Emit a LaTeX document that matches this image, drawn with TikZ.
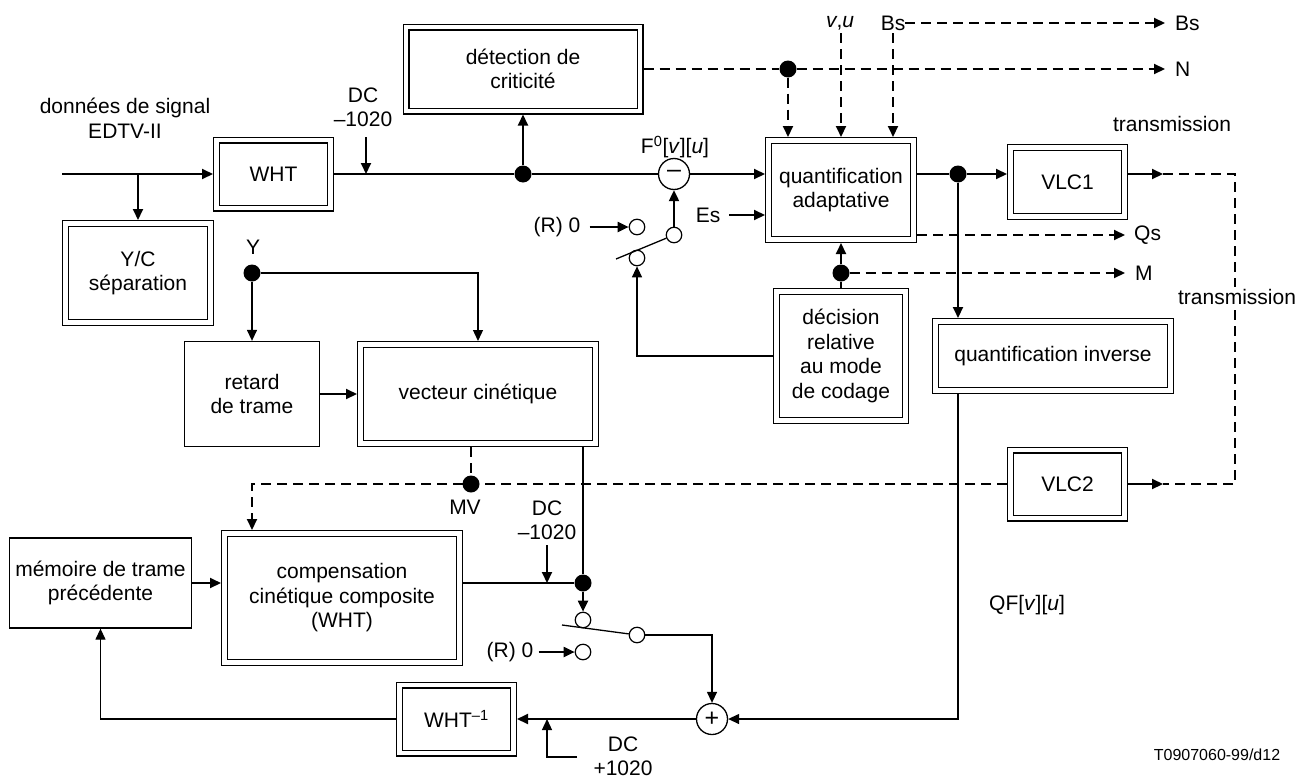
\documentclass[tikz,border=0pt]{standalone}
\usepackage{fontspec}
\setmainfont{Liberation Sans}
\usetikzlibrary{arrows.meta,calc}
\begin{document}
\begin{tikzpicture}[x=1pt,y=-1pt,
  every node/.style={font=\fontsize{21}{24.5}\selectfont, inner sep=0pt},
  dbox/.style={draw, double, double distance=4.6pt, line width=1.2pt, outer sep=3.5pt, align=center},
  sbox/.style={draw, line width=1.3pt, outer sep=0.65pt, align=center},
  lbl/.style={align=center},
  sig/.style={line width=2pt},
  thn/.style={line width=1.3pt},
  dsh/.style={line width=2pt, dash pattern=on 10pt off 6pt},
  tip/.style={-{Triangle[length=11pt,width=10pt]}},
  dot/.style={circle, fill, minimum size=17pt},
  sw/.style={circle, draw, line width=1.2pt, minimum size=15.5pt, fill=white},
  sumc/.style={circle, draw, line width=1.3pt, minimum size=31pt, font=\fontsize{25}{25}\selectfont},
]
\useasboundingbox (0,0) rectangle (1308,779);

% boxes
\node[dbox, minimum width=114pt, minimum height=68pt] (wht) at (273.5,174) {WHT};
\node[dbox, minimum width=145pt, minimum height=99pt] (yc) at (138,273) {Y/C\\séparation};
\node[dbox, minimum width=234pt, minimum height=84pt] (det) at (523,69) {détection de\\criticité};
\node[dbox, minimum width=145pt, minimum height=99pt] (quant) at (841,190) {quantification\\adaptative};
\node[dbox, minimum width=114pt, minimum height=69pt] (vlc1) at (1067.5,182) {VLC1};
\node[dbox, minimum width=235pt, minimum height=99pt] (vec) at (478,394) {vecteur cinétique};
\node[dbox, minimum width=129pt, minimum height=129pt] (dec) at (841,356) {décision\\relative\\au mode\\de codage};
\node[dbox, minimum width=235pt, minimum height=69pt] (qinv) at (1053,356) {quantification inverse};
\node[dbox, minimum width=114pt, minimum height=68pt] (vlc2) at (1067.5,484) {VLC2};
\node[dbox, minimum width=235pt, minimum height=129pt] (comp) at (342,598) {compensation\\cinétique composite\\(WHT)};
\node[dbox, minimum width=114pt, minimum height=68pt] (whti) at (456.5,719) {WHT\textsuperscript{–1}};
\node[sbox, minimum width=135pt, minimum height=105pt] (ret) at (252,394) {retard\\de trame};
\node[sbox, minimum width=182pt, minimum height=90pt] (mem) at (100.5,583) {mémoire de trame\\précédente};

% circles
\node[sumc] (minus) at (674,174) {–};
\node[sumc] (plus) at (712,719) {+};

% dots
\node[dot] (d1) at (523,174) {};
\node[dot] (d2) at (788,69) {};
\node[dot] (d3) at (958,174) {};
\node[dot] (d4) at (841,273) {};
\node[dot] (dY) at (252,273) {};
\node[dot] (dMV) at (471,484) {};
\node[dot] (dC) at (583,583) {};

% labels
\node[lbl] (sig) at (125,118.5) {données de signal\\EDTV-II};
\node[lbl] (dc1) at (363,107.5) {DC\\–1020};
\node[lbl] (f0) at (675,147) {F\textsuperscript{0}[\textit{v}][\textit{u}]};
\node[lbl] (vu) at (840,23) {\textit{v},\textit{u}};
\node[lbl] (bs) at (893,23) {Bs};
\node[lbl, anchor=west] (bs2) at (1175,23) {Bs};
\node[lbl, anchor=west] (nl) at (1175,69) {N};
\node[lbl] (tr1) at (1172,124) {transmission};
\node[lbl] (es) at (708,215) {Es};
\node[lbl] (r1) at (557,227) {(R) 0};
\node[lbl, anchor=west] (qs) at (1134,235) {Qs};
\node[lbl, anchor=west] (ml) at (1135,273) {M};
\node[lbl] (yl) at (253,247) {Y};
\node[lbl] (mv) at (465,507) {MV};
\node[lbl] (dc2) at (547,520.5) {DC\\–1020};
\node[lbl] (r2) at (510,652) {(R) 0};
\node[lbl] (qf) at (1027,605) {QF[\textit{v}][\textit{u}]};
\node[lbl] (dc3) at (623,756.5) {DC\\+1020};
\node[lbl, font=\fontsize{16}{18}\selectfont] (code) at (1217,755) {T0907060-99/d12};

% coordinates
\coordinate (inp) at (62,174);
\coordinate (br) at (138,174);
\coordinate (dc1a) at (366,137);
\coordinate (lv1) at (616,259);
\coordinate (vuA) at (841,33);
\coordinate (bsA) at (893,33);
\coordinate (t1) at (1163,174);
\coordinate (t2) at (1163,484);
\coordinate (trc) at (1235,174);
\coordinate (mvl) at (252,484);
\coordinate (dc2a) at (547,545);
\coordinate (lv2) at (562,625);
\coordinate (dc3a) at (577,757);
\coordinate (dc3b) at (547,757);

% top signal path
\draw[sig,tip] (inp) -- (wht.west);
\draw[sig,tip] (br) -- (yc.north);
\draw[sig] (wht.east) -- (d1);
\draw[sig,tip] (d1) -- (det.south);
\draw[sig] (d1) -- (minus);
\draw[sig,tip] (minus) -- (minus -| quant.west);
\draw[sig,tip] (dc1a) -- (dc1a |- wht.east);
\draw[sig,tip] ([xshift=9pt]es.east) -- (es.east -| quant.west);
\draw[sig] (quant.east |- d3) -- (d3);
\draw[sig,tip] (d3) -- (d3 -| vlc1.west);
\draw[sig,tip] (d3) -- (d3 |- qinv.north);
\draw[sig,tip] (vlc1.east |- t1) -- (t1);
\draw[sig,tip] (vlc2.east |- t2) -- (t2);
\draw[dsh] (t1) -- (trc) -- (trc |- t2) -- (t2);

% dashed control lines
\draw[dsh] (det.east) -- (d2);
\draw[dsh,tip] (d2) -- ([xshift=-10pt]nl.west);
\draw[dsh,tip] (d2) -- (d2 |- quant.north);
\draw[dsh,tip] (vuA) -- (vuA |- quant.north);
\draw[dsh,tip] (bsA) -- (bsA |- quant.north);
\draw[dsh,tip] (bs.east) -- ([xshift=-10pt]bs2.west);
\draw[dsh,tip] (quant.east |- qs) -- ([xshift=-9pt]qs.west);
\draw[sig] (dec.north) -- (d4);
\draw[dsh,tip] (d4) -- (quant.south);
\draw[dsh,tip] (d4) -- ([xshift=-10pt]ml.west);

% switch 1
\node[sw] (s1a) at (637,227) {};
\node[sw] (s1b) at (637,258) {};
\node[sw] (s1c) at (674,235) {};
\draw[thn] (lv1) -- (s1c);
\draw[sig,tip] (s1c) -- (minus);
\draw[sig,tip] ([xshift=9pt]r1.east) -- (s1a.west);
\draw[thn,tip] (dec.west) -- (dec.west -| s1b) -- (s1b.south);

% motion vector part
\draw[thn,tip] (dY) -- (ret.north);
\draw[thn,tip] (dY) -- (dY -| vec.north) -- (vec.north);
\draw[sig,tip] (ret.east) -- (ret.east -| vec.west);
\draw[sig] (vec.south -| dC) -- (dC);
\draw[dsh] (vec.south -| dMV) -- (dMV);
\draw[dsh,tip] (dMV -| vlc2.west) -- (mvl) -- (mvl |- comp.north);

% lower loop
\draw[sig,tip] (mem.east) -- (mem.east -| comp.west);
\draw[sig] (dC -| comp.east) -- (dC);
\draw[sig,tip] (dc2a) -- (dc2a |- dC);
\node[sw] (s2a) at (583,620) {};
\node[sw] (s2b) at (583,652) {};
\node[sw] (s2c) at (637,635) {};
\draw[thn] (lv2) -- (s2c);
\draw[sig,tip] (dC) -- (s2a);
\draw[sig,tip] ([xshift=5pt]r2.east) -- (s2b.west);
\draw[thn,tip] (s2c.east) -- (s2c -| plus) -- (plus.north);
\draw[thn,tip] (qinv.south -| d3) -- (d3 |- plus) -- (plus.east);
\draw[sig,tip] (plus.west) -- (plus.west -| whti.east);
\draw[thn,tip] (dc3a) -- (dc3b) -- (dc3b |- plus);
\draw[thn,tip] (whti.west) -- (whti.west -| mem.south) -- (mem.south);

% second transmission label over dashed line
\node[lbl, fill=white, inner sep=2pt] (tr2) at (1237,297) {transmission};
\end{tikzpicture}
\end{document}
